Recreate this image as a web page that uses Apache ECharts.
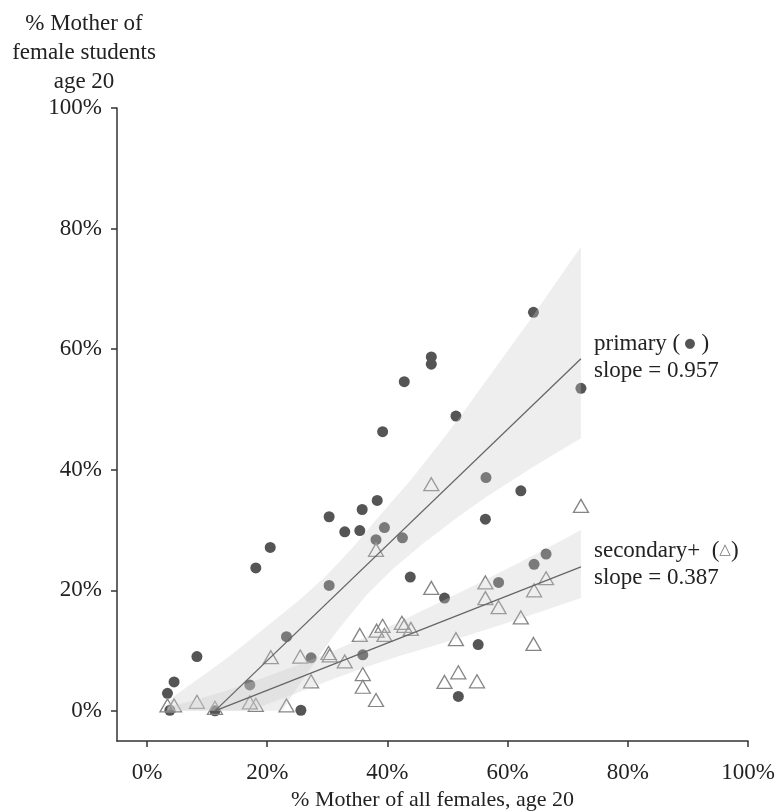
<!DOCTYPE html>
<html lang="en">
<head>
    <meta charset="UTF-8">
    <title>Mother of female students vs all females, age 20</title>
    <script src="https://cdn.jsdelivr.net/npm/echarts@6/dist/echarts.min.js"></script>
    <style>
        html, body { margin: 0; padding: 0; background: #fff; }
        #main { width: 776px; height: 812px; }
    </style>
</head>
<body>
<div id="main"></div>
<script type="text/javascript">
    // values in percent
    var tickValues = [0, 20, 40, 60, 80, 100];

    // primary (filled circles)
    var primaryX = [3.4, 3.8, 4.5, 8.3, 11.3, 17.1, 18.1, 20.5, 23.2, 25.6, 27.3, 30.3, 30.3, 32.9, 35.4, 35.8, 35.9, 38.1, 38.3,
        39.2, 39.5, 42.5, 42.8, 43.8, 47.3, 47.3, 49.5, 51.4, 51.8, 55.1, 56.4, 56.3, 58.5, 62.2, 64.4, 64.3, 66.4, 72.2];
    var primaryY = [2.9, 0.1, 4.8, 9.0, 0.0, 4.3, 23.7, 27.1, 12.3, 0.1, 8.8, 20.8, 32.2, 29.7, 29.9, 33.4, 9.3, 28.4, 34.9,
        46.3, 30.4, 28.7, 54.6, 22.2, 58.7, 57.5, 18.7, 48.9, 2.4, 11.0, 38.7, 31.8, 21.3, 36.5, 24.3, 66.1, 26.0, 53.5];

    // secondary+ (open triangles)
    var secondaryX = [3.4, 4.5, 8.3, 11.3, 17.1, 18.1, 20.6, 23.2, 25.5, 27.3, 30.2, 30.4, 32.9, 35.4, 35.9, 35.9, 38.1, 38.1, 38.2,
        39.2, 39.5, 42.4, 42.8, 43.9, 47.3, 47.3, 49.5, 51.4, 51.8, 54.9, 56.3, 56.3, 58.5, 62.2, 64.4, 64.3, 66.4, 72.2];
    var secondaryY = [0.9, 0.9, 1.5, 0.5, 1.4, 1.0, 8.9, 0.9, 9.0, 4.9, 9.6, 9.2, 8.2, 12.6, 6.1, 4.0, 1.8, 26.7, 13.3,
        14.1, 12.6, 14.6, 14.1, 13.6, 37.6, 20.4, 4.8, 11.9, 6.4, 4.9, 21.3, 18.7, 17.2, 15.5, 20.0, 11.1, 22.0, 34.0];

    // fitted lines
    var primaryFitX = [11.3, 72.2];
    var primaryFitY = [0, 58.4];
    var secondaryFitX = [11.3, 72.2];
    var secondaryFitY = [0, 23.9];

    // confidence bands (upper and lower edges)
    var primaryUpperX = [3.4, 4.4, 9.9, 14.4, 19.9, 25.5, 29.9, 34.3, 38.8, 43.8, 47.6, 52.1, 56.5, 63.7, 72.2];
    var primaryUpperY = [1.0, 2.4, 6.3, 9.6, 14.0, 18.5, 22.5, 27.2, 32.5, 38.2, 43.0, 48.8, 54.9, 64.8, 77.0];
    var primaryLowerX = [3.4, 22.5, 25.5, 28.8, 31.0, 33.2, 36.6, 41.0, 46.0, 51.5, 56.5, 64.3, 72.2];
    var primaryLowerY = [0, 0, 4.6, 9.3, 12.4, 15.2, 19.3, 23.6, 27.8, 32.0, 35.5, 40.5, 45.2];

    var secondaryUpperX = [3.4, 8, 13, 18, 24, 30, 36, 42, 48, 54, 60, 66, 72.2];
    var secondaryUpperY = [0.6, 1.8, 3.3, 5.0, 7.2, 9.5, 12.1, 14.8, 17.7, 20.6, 23.6, 26.7, 30.0];
    var secondaryLowerX = [3.4, 17, 24, 30, 36, 42, 48, 54, 60, 66, 72.2];
    var secondaryLowerY = [0, 0, 2.6, 4.9, 7.1, 9.1, 10.9, 12.7, 14.6, 16.6, 18.7];

    var serif = "'Liberation Serif', 'Times New Roman', serif";
    var bandFill = 'rgba(201,201,201,0.32)';

    function zip(xs, ys) {
        return xs.map(function (x, i) { return [x, ys[i]]; });
    }

    // polygon from the upper edge then the lower edge backwards
    function bandSeries(upX, upY, loX, loY) {
        var data = zip(upX, upY).concat(zip(loX, loY).reverse());
        return {
            type: 'custom',
            coordinateSystem: 'cartesian2d',
            z: 3,
            silent: true,
            data: data,
            encode: { x: 0, y: 1 },
            renderItem: function (params, api) {
                if (params.dataIndex !== 0) return;
                var pts = data.map(function (d) { return api.coord(d); });
                return {
                    type: 'polygon',
                    shape: { points: pts },
                    style: { fill: bandFill }
                };
            }
        };
    }

    var myChart = echarts.init(document.getElementById('main'));

    var axisCommon = {
        type: 'value',
        min: -5,
        max: 100,
        splitLine: { show: false },
        axisLine: { show: true, onZero: false, lineStyle: { color: '#333', width: 1.5 } },
        axisTick: { show: true, customValues: tickValues, length: 6, lineStyle: { color: '#333', width: 1.5 } },
        axisLabel: {
            customValues: tickValues,
            formatter: '{value}%',
            color: '#222',
            fontFamily: serif,
            fontSize: 23
        }
    };

    var option = {
        animation: false,
        backgroundColor: '#fff',
        grid: { left: 117, right: 28, top: 108, bottom: 71, containLabel: false, outerBoundsMode: 'none' },
        xAxis: Object.assign({}, axisCommon, {
            axisLabel: Object.assign({}, axisCommon.axisLabel, { margin: 20 }),
            name: '% Mother of all females, age 20',
            nameLocation: 'middle',
            nameGap: 48,
            nameTextStyle: { color: '#222', fontFamily: serif, fontSize: 22 }
        }),
        yAxis: Object.assign({}, axisCommon, {
            axisLabel: Object.assign({}, axisCommon.axisLabel, { margin: 15 })
        }),
        graphic: [
            {
                type: 'text',
                x: 84,
                y: 9,
                style: {
                    text: '% Mother of\nfemale students\nage 20',
                    align: 'center',
                    verticalAlign: 'top',
                    font: '23px ' + serif,
                    lineHeight: 29,
                    fill: '#222'
                }
            },
            {
                type: 'text',
                x: 594,
                y: 330,
                style: {
                    rich: {
                        t: { font: '23px ' + serif, fill: '#222', lineHeight: 27 },
                        c: { fontSize: 13, fill: '#555', fontFamily: 'DejaVu Sans', lineHeight: 27 }
                    },
                    text: '{t|primary (}{c| ●}{t| )}\n{t|slope = 0.957}'
                }
            },
            {
                type: 'text',
                x: 594,
                y: 537,
                style: {
                    rich: {
                        t: { font: '23px ' + serif, fill: '#222', lineHeight: 27 },
                        c: { fontSize: 15, fill: '#777', fontFamily: 'DejaVu Sans', lineHeight: 27 }
                    },
                    text: '{t|secondary+  (}{c|△}{t|)}\n{t|slope = 0.387}'
                }
            }
        ],
        series: [
            {
                name: 'primary',
                type: 'scatter',
                z: 2,
                symbol: 'circle',
                symbolSize: 11,
                itemStyle: { color: '#555', opacity: 1 },
                data: zip(primaryX, primaryY)
            },
            {
                name: 'secondary+',
                type: 'scatter',
                z: 2,
                symbol: 'triangle',
                symbolSize: [15, 13],
                itemStyle: { color: 'rgba(0,0,0,0)', borderColor: '#858585', borderWidth: 1.3, opacity: 1 },
                data: zip(secondaryX, secondaryY)
            },
            bandSeries(primaryUpperX, primaryUpperY, primaryLowerX, primaryLowerY),
            bandSeries(secondaryUpperX, secondaryUpperY, secondaryLowerX, secondaryLowerY),
            {
                name: 'primary fit',
                type: 'line',
                z: 4,
                showSymbol: false,
                symbol: 'none',
                lineStyle: { color: '#666', width: 1.3 },
                data: zip(primaryFitX, primaryFitY)
            },
            {
                name: 'secondary fit',
                type: 'line',
                z: 4,
                showSymbol: false,
                symbol: 'none',
                lineStyle: { color: '#666', width: 1.3 },
                data: zip(secondaryFitX, secondaryFitY)
            }
        ]
    };

    option && myChart.setOption(option);
</script>
</body>
</html>
